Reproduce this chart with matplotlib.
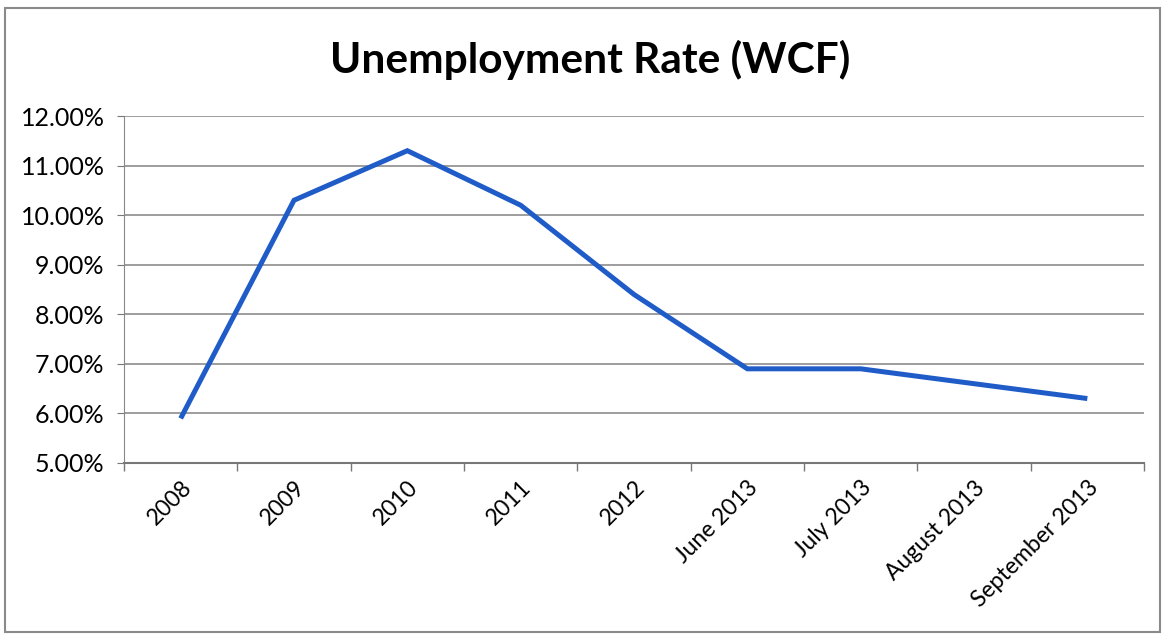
import matplotlib
matplotlib.use("Agg")
import matplotlib.pyplot as plt
from matplotlib.patches import Rectangle
from matplotlib.ticker import FuncFormatter, FixedLocator

categories = ["2008", "2009", "2010", "2011", "2012", "June 2013", "July 2013",
              "August 2013", "September 2013"]
rates = [5.9, 10.3, 11.3, 10.2, 8.4, 6.9, 6.9, 6.6, 6.3]
yticks = [5, 6, 7, 8, 9, 10, 11, 12]

plt.rcParams['font.family'] = ['Lato', 'DejaVu Sans']

W, H = 1163, 637
fig = plt.figure(figsize=(W / 100, H / 100), dpi=100)
fig.patch.set_facecolor("white")

# chart frame
fig.add_artist(Rectangle((5 / W, 1 - 632 / H), (1160 - 5) / W, (632 - 8) / H,
                         transform=fig.transFigure, fill=False,
                         edgecolor="#8a8a8a", linewidth=1.5))

ax = fig.add_axes([124 / W, 1 - 463 / H, (1144 - 124) / W, (463 - 116) / H])
x = list(range(len(categories)))
ax.plot(x, rates, color="#1f5cc8", linewidth=3.6, solid_joinstyle="miter",
        solid_capstyle="butt", zorder=3)

ax.set_xlim(-0.5, len(categories) - 0.5)
ax.set_ylim(5, 12)
ax.set_yticks(yticks)
ax.yaxis.set_major_formatter(FuncFormatter(lambda v, p: f"{v:.2f}%"))
ax.grid(axis="y", color="#8c8c8c", linewidth=1.2)
ax.set_axisbelow(True)

ax.set_xticks(x)
ax.set_xticklabels(categories, rotation=45, ha="right", rotation_mode="anchor",
                   fontsize=16.5)
ax.xaxis.set_minor_locator(FixedLocator([i - 0.5 for i in range(len(categories) + 1)]))
ax.tick_params(axis="x", which="major", length=0, pad=10)
ax.tick_params(axis="x", which="minor", length=6, color="#777777", width=1)
ax.tick_params(axis="y", length=5, color="#777777", labelsize=18, pad=9)

for s in ["top", "right"]:
    ax.spines[s].set_visible(False)
ax.spines["left"].set_color("#888888")
ax.spines["bottom"].set_color("#777777")
ax.spines["bottom"].set_linewidth(1.5)

fig.text(590 / W, 1 - 60 / H, "Unemployment Rate (WCF)", ha="center", va="center",
         fontsize=30.5, fontweight="bold")

fig.savefig("out.png", dpi=100)
